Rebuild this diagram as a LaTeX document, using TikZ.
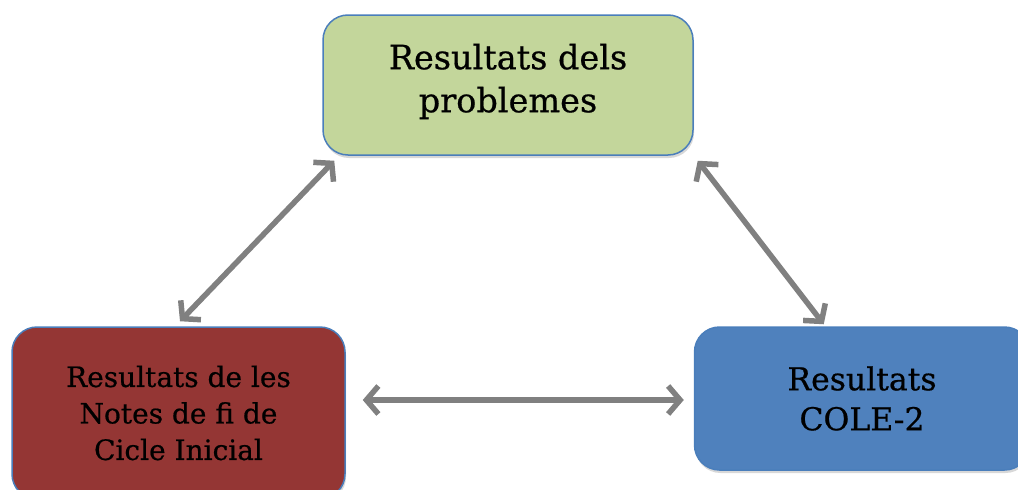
\documentclass[tikz,border=0pt]{standalone}
\usepackage{fontspec}
\setmainfont{DejaVu Serif}[FakeBold=0.6]
\usetikzlibrary{arrows.meta,shadows,calc}
\definecolor{boxgreen}{HTML}{C3D69B}
\definecolor{boxred}{HTML}{943634}
\definecolor{boxblue}{HTML}{4F81BD}
\definecolor{edgeblue}{HTML}{4A7EBB}
\definecolor{arrowgray}{HTML}{808080}
\begin{document}
\begin{tikzpicture}[x=1pt,y=-1pt,
  box/.style={draw=edgeblue, line width=1.5pt, rounded corners=25pt, inner sep=0pt, align=center,
    drop shadow={shadow xshift=1pt, shadow yshift=-3pt, fill=black!30}},
  barb/.tip={Straight Barb[length=12pt,width=28pt,line width=5.5pt]},
  link/.style={draw=arrowgray, line width=5.5pt, barb-barb}]
\useasboundingbox (0,0) rectangle (1018,490);
\node[box, fill=boxgreen, minimum width=370pt, minimum height=140pt, font=\fontsize{33.5}{43}\selectfont] (g) at (508,85) {Resultats dels\\problemes\\[-29pt]};
\node[box, fill=boxred, minimum width=333pt, minimum height=172pt, font=\fontsize{28}{36.5}\selectfont] (r) at (178.5,413) {Resultats de les\\Notes de fi de\\Cicle Inicial};
\node[box, fill=boxblue, minimum width=335pt, minimum height=143pt, font=\fontsize{31.5}{40}\selectfont] (b) at (862,398.5) {Resultats\\COLE-2};
\draw[link] ($(g.south west)+(12,5)$) -- ($(r.north)+(1.5,-5)$);
\draw[link] ($(g.south east)+(4,5)$) -- ($(b.north west)+(130,-2)$);
\draw[link] ($(r.east)+(17,-13)$) -- ($(b.west)+(-10,1.5)$);
\end{tikzpicture}
\end{document}
